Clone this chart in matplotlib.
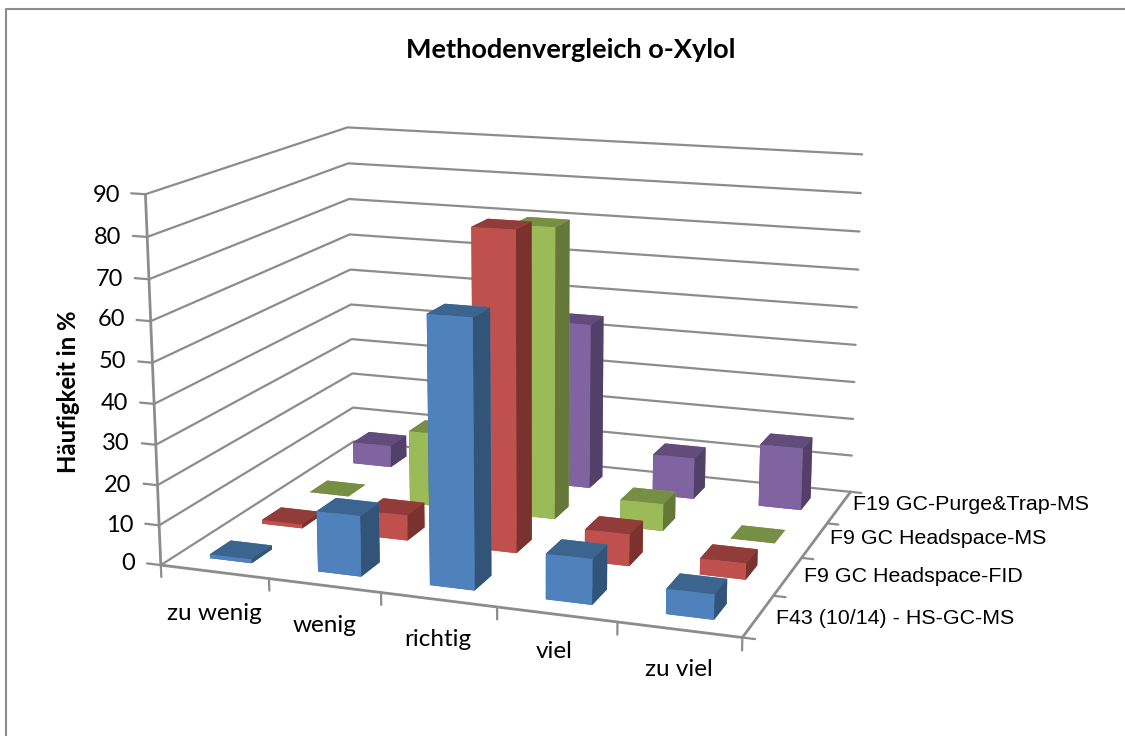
import numpy as np
import matplotlib
matplotlib.use("Agg")
import matplotlib.pyplot as plt
from matplotlib.lines import Line2D

W, H = 1125, 736

# ---- data ----
categories = ["zu wenig", "wenig", "richtig", "viel", "zu viel"]
series_names = ["F43 (10/14) - HS-GC-MS", "F9 GC Headspace-FID", "F9 GC Headspace-MS", "F19 GC-Purge&Trap-MS"]
blue = [1, 15, 65, 11, 6]
red = [1, 6.5, 80, 8, 4]
green = [0, 19.5, 75.5, 7, 0]
purple = [6, 10, 44.5, 11, 16.5]
z_ticks = [0, 10, 20, 30, 40, 50, 60, 70, 80, 90]

front_cols = ["#4F81BD", "#C0504D", "#9BBB59", "#8064A2"]
top_cols = ["#3B648F", "#913C39", "#778F44", "#614C7C"]
side_cols = ["#325479", "#7A322F", "#647839", "#524068"]
GRID = "#8C8C8C"

# ---- camera: solved from the chart box corners (data corner -> reference pixel) ----
nx, ny, nz = len(categories), len(series_names), z_ticks[-1]
corners = [((0, 0, 0), (161.5, 564)), ((nx, 0, 0), (742, 639)), ((nx, ny, 0), (851, 490)),
           ((0, ny, 0), (353, 443)), ((0, 0, nz), (145, 194)), ((0, ny, nz), (348, 127)),
           ((nx, ny, nz), (862, 155))]
rows = []
for (x, y, z), (u, v) in corners:
    v = H - v
    rows.append([x, y, z, 1, 0, 0, 0, 0, -u*x, -u*y, -u*z, -u])
    rows.append([0, 0, 0, 0, x, y, z, 1, -v*x, -v*y, -v*z, -v])
P = np.linalg.svd(np.array(rows, float))[2][-1].reshape(3, 4)
P = P / (P[2] @ np.array([nx/2, ny/2, nz/2, 1]))

fig = plt.figure(figsize=(W/100, H/100), dpi=100, facecolor="white")
ax = fig.add_axes([0, 0, 1, 1], projection="3d")
ax.apply_aspect = lambda position=None: None
ax._set_position(matplotlib.transforms.Bbox.unit(), "active")
ax.set_axis_off()
ax.patch.set_visible(False)
ax.computed_zorder = False
ax.set_proj_type("ortho")
A = ax.transData.inverted().get_matrix()
Pv = A @ P
M = np.array([Pv[0], Pv[1], [-0.3, 2.0, -0.01, 0.5], Pv[2]])
ax.get_proj = lambda: M

def line(xs, ys, zs, lw=1.6):
    ax.plot(xs, ys, zs, color=GRID, lw=lw, zorder=1, solid_capstyle="round", clip_on=False)

# walls and floor
for z in z_ticks:
    line([0, 0, nx], [0, ny, ny], [z, z, z])
    line([-0.13, 0], [0, 0], [z, z])
line([0, 0], [0, 0], [0, nz], lw=2)
line([0, nx, nx], [0, 0, ny], [0, 0, 0], lw=2)
for i in range(nx + 1):
    line([i, i], [0, 0], [0, -3], lw=1.6)
for j in range(ny + 1):
    line([nx, nx + 0.1], [j, j], [0, 0], lw=1.6)

# bars
bw, bd = 0.39, 0.39
all_series = [blue, red, green, purple]
for j in range(ny - 1, -1, -1):
    for i in range(nx):
        c = [top_cols[j], top_cols[j], front_cols[j], front_cols[j], side_cols[j], side_cols[j]]
        col = ax.bar3d(i + 0.305, j + 0.3, 0, bw, bd, all_series[j][i], color=c, shade=False, edgecolor="none")
        col.set_zorder(10 + (ny - j) * 10 + i)
        col.set_clip_on(False)
ax.get_proj = lambda: M

# text
def t(px, py, s, **k):
    fig.text(px/W, 1 - py/H, s, **k)

t(571, 50, "Methodenvergleich o-Xylol", family="Lato", weight="bold", fontsize=19.5, ha="center", va="center")
t(68, 392, "Häufigkeit in %", family="Lato", weight="bold", fontsize=17.2, rotation=90, ha="center", va="center")
ytick_px = [564, 525, 485, 444, 404, 362, 320, 279, 237, 195]
for v, py in zip(z_ticks, ytick_px):
    t(135 - 15 * v / 90, py, str(v), family="Lato", fontsize=17, ha="right", va="center")
cat_px = [(214, 613), (325, 625), (438, 640), (554, 652), (679, 670)]
for s, (px, py) in zip(categories, cat_px):
    t(px, py, s, family="Lato", fontsize=17.5, ha="center", va="center")
ser_px = [(776, 618), (804, 577), (830, 539), (853, 505)]
for s, (px, py) in zip(series_names, ser_px):
    t(px, py, s, family="Liberation Sans", fontsize=15.4, ha="left", va="center")

# outer frame of the pasted chart
fig.add_artist(Line2D([5.5/W, 5.5/W, 1], [0, 1 - 9/H, 1 - 9/H], color="#8C8C8C", lw=1.5, transform=fig.transFigure))

fig.savefig("out.png", dpi=100)
